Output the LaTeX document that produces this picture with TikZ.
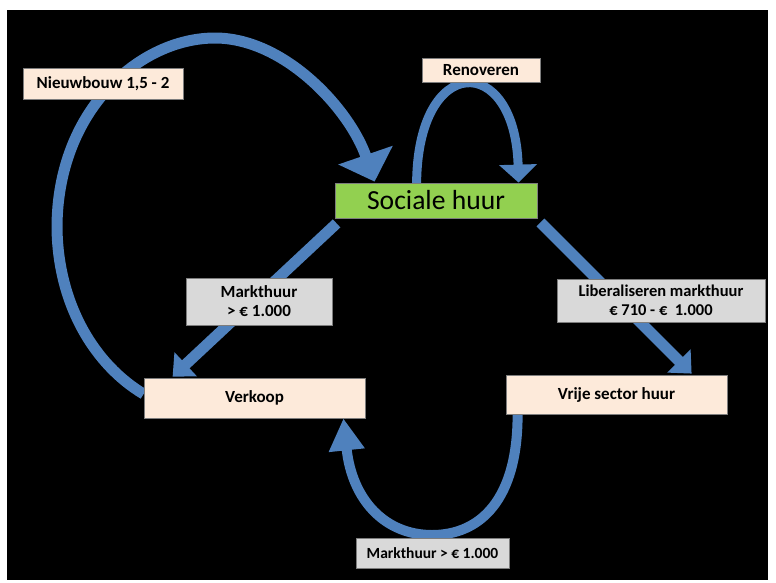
\documentclass[tikz,border=0pt]{standalone}
\usepackage{fontspec}
\setmainfont{Carlito}
\usetikzlibrary{arrows.meta,calc}
\pgfdeclarelayer{bg}
\pgfsetlayers{bg,main}
\definecolor{arrblue}{RGB}{79,129,189}
\definecolor{peach}{RGB}{253,234,218}
\definecolor{lgray}{RGB}{217,217,217}
\definecolor{lgreen}{RGB}{146,208,80}
\definecolor{edgegray}{RGB}{125,125,125}
\begin{document}
\begin{tikzpicture}[x=1pt,y=-1pt,
  box/.style={draw=edgegray, line width=0.8pt, inner sep=0pt, align=center,
    font=\fontsize{17}{20}\selectfont\bfseries, text=black},
  peachbox/.style={box, fill=peach},
  graybox/.style={box, fill=lgray},
  flow/.style={draw=arrblue, line width=#1}
]
\useasboundingbox (0,0) rectangle (776,582);

% nodes
\node[peachbox, minimum width=160pt, minimum height=31pt] (nieuw) at (103,83.5) {Nieuwbouw 1,5 - 2};
\node[peachbox, minimum width=118pt, minimum height=24pt] (renov) at (481,70) {Renoveren};
\node[box, fill=lgreen, font=\fontsize{27.6}{30}\selectfont, minimum width=202pt, minimum height=35pt] (sociale) at (436,200.5) {Sociale huur};
\node[graybox, minimum width=146pt, minimum height=47pt] (mkleft) at (259,301.5) {Markthuur\\[-1pt] > € 1.000};
\node[graybox, font=\fontsize{16.5}{19}\selectfont\bfseries, minimum width=208pt, minimum height=43pt] (liberal) at (661,300.5) {Liberaliseren markthuur\\ € 710 - €~~1.000};
\node[peachbox, minimum width=221pt, minimum height=40pt] (verkoop) at (254.5,398) {Verkoop};
\node[peachbox, minimum width=221pt, minimum height=39pt] (vrije) at (616.5,394.5) {Vrije sector huur};
\node[graybox, font=\fontsize{15.5}{18}\selectfont\bfseries, minimum width=153pt, minimum height=30pt] (mkbottom) at (432.5,553) {Markthuur > € 1.000};

\begin{pgfonlayer}{bg}
\fill[white] (0,0) rectangle (776,582);
\fill[black] (7,10) rectangle (768,580);
% big arc: Verkoop -> Sociale huur
\draw[flow=11pt, -{Triangle[width=56pt,length=28pt]}]
  ($(verkoop.west)+(0,-4)$) .. controls (95,365) and (58,305) .. (57,228)
  .. controls (57,110) and (140,38) .. (215,38)
  .. controls (285,38) and (350,110) .. ($(sociale.north west)+(40,-1)$);
% Renoveren loop
\draw[flow=9pt, -{Triangle[width=37pt,length=18pt]}]
  ($(sociale.north west)+(82,2)$) .. controls (417,52) and (515,52) .. ($(sociale.north west)+(184,0)$);
% Sociale -> Verkoop
\draw[flow=11pt, -{Triangle[width=32pt,length=18pt]}]
  ($(sociale.south west)+(2,5)$) -- ($(verkoop.north west)+(29,-1)$);
% Sociale -> Vrije sector
\draw[flow=11pt, -{Triangle[width=32pt,length=18pt]}]
  ($(sociale.south east)+(3,4)$) -- ($(vrije.north west)+(186,-1)$);
% Vrije sector -> Verkoop
\draw[flow=10pt, -{Triangle[width=34pt,length=32pt]}]
  ($(vrije.south west)+(12,-1)$) .. controls (518,500) and (480,535) .. (432,535)
  .. controls (385,535) and (352,500) .. ($(verkoop.south east)+(-22,0)$);
\end{pgfonlayer}
\end{tikzpicture}
\end{document}
